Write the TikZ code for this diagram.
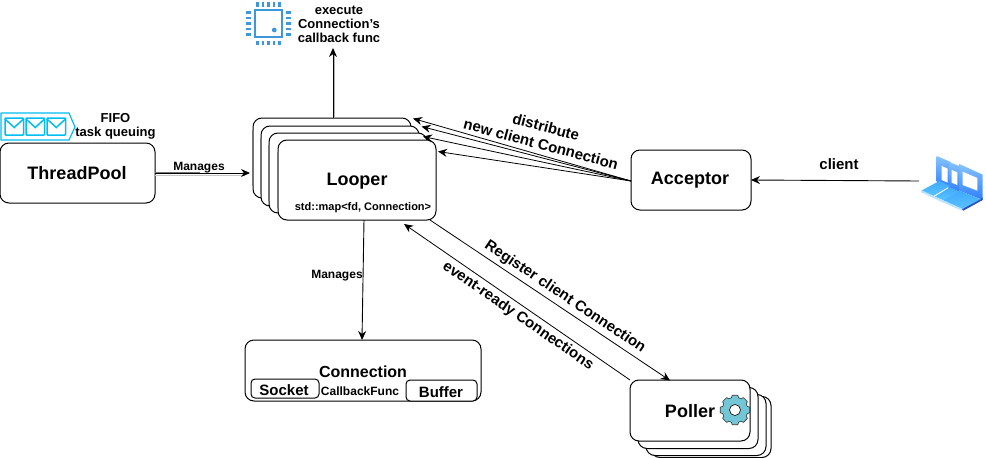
\documentclass[tikz,border=0pt]{standalone}
\usepackage{fontspec}
\setmainfont{Liberation Sans}
\usetikzlibrary{arrows.meta}
\definecolor{fifoblue}{HTML}{00BEF2}
\definecolor{chipblue}{HTML}{3F97DB}
\definecolor{gearteal}{HTML}{73C6D5}
\definecolor{lapdeep}{HTML}{2F7DFF}
\definecolor{laptop}{HTML}{86C4FF}
\definecolor{lapmid}{HTML}{3FA9FF}
\definecolor{lapsky}{HTML}{5CC4FF}
\definecolor{lappale}{HTML}{BFE4FF}
\definecolor{lapdark}{HTML}{2A4FC0}
\newcommand{\fs}[1]{\fontsize{#1}{#1}\selectfont\bfseries}
\tikzset{
  x=1pt,y=-1pt,
  box/.style={draw=black,fill=white,rounded corners=9pt,line width=1pt,inner sep=0pt,outer sep=0pt},
  lbl/.style={inner sep=0pt,outer sep=0pt,align=center,text=black},
  arr/.style={-{Stealth[length=9pt,width=8pt]},line width=0.9pt,black},
  thin arr/.style={arr,line width=0.8pt},
  shade line/.style={line width=1pt},
  pin/.style={chipblue,line width=2.2pt},
  card edge/.style={black!55,line width=1.6pt},
}
\begin{document}
\begin{tikzpicture}
\useasboundingbox (0,0) rectangle (986,458);
\fill[white] (0,0) rectangle (986,458);

% boxes
\node[box,minimum width=155pt,minimum height=60pt] (threadpool) at (77.5,173) {};
\node[box,minimum width=158pt,minimum height=80pt] (looperA) at (332,158) {};
\draw[card edge] ([yshift=-28pt]looperA.west) -- ([yshift=28pt]looperA.west);
\node[box,minimum width=158pt,minimum height=80pt] (looperB) at (340,166) {};
\draw[card edge] ([yshift=-28pt]looperB.west) -- ([yshift=28pt]looperB.west);
\node[box,minimum width=158pt,minimum height=80pt] (looperC) at (348,173) {};
\draw[card edge] ([yshift=-28pt]looperC.west) -- ([yshift=28pt]looperC.west);
\node[box,minimum width=158pt,minimum height=80pt] (looperD) at (357,180) {};
\draw[card edge] ([yshift=-28pt]looperD.west) -- ([yshift=28pt]looperD.west);
\node[box,minimum width=120pt,minimum height=60pt] (acceptor) at (691,180) {};
\node[box,minimum width=236pt,minimum height=61pt] (connection) at (363,370.5) {};
\node[box,rounded corners=4pt,minimum width=68pt,minimum height=19pt] (socket) at (285,388.5) {};
\node[box,rounded corners=4pt,minimum width=71pt,minimum height=21pt] (buffer) at (441.5,390.5) {};
\node[box,minimum width=120pt,minimum height=61pt] (pollerD) at (711,427) {};
\node[box,minimum width=120pt,minimum height=61pt] (pollerC) at (706,425) {};
\node[box,minimum width=120pt,minimum height=61pt] (pollerB) at (698,418) {};
\node[box,minimum width=120pt,minimum height=61pt] (pollerA) at (690,410.5) {};

% free ends
\coordinate (execTip) at (333,48);
\coordinate (execStart) at (333,118);
\coordinate (tpTip) at (250,173);
\coordinate (acceptorOut) at (631,181);
\coordinate (tipA) at (413,118.5);
\coordinate (tipB) at (421.5,126.5);
\coordinate (tipC) at (423,136.5);
\coordinate (tipD) at (438,151.5);
\coordinate (clientStart) at (919,181);
\coordinate (regStart) at (430,220);
\coordinate (regTip) at (670,380.5);
\coordinate (evStart) at (630,380);
\coordinate (evTip) at (404,224);
\coordinate (mgStart) at (364,220);
\coordinate (mgTip) at (362,340);

% connectors
\draw[shade line,black!30] (334.5,118) -- (334.5,54);
\draw[arr] (execStart) -- (execTip);
\draw[shade line,black!22] (155,175.5) -- (245,175.5);
\draw[line width=1.6pt,black!55] (threadpool.east) -- (200,173);
\draw[arr] (threadpool.east) -- (tpTip);
\draw[thin arr] (acceptorOut) -- (tipA);
\draw[thin arr] (acceptorOut) -- (tipB);
\draw[thin arr] (acceptorOut) -- (tipC);
\draw[thin arr] (acceptorOut) -- (tipD);
\draw[arr] (clientStart) -- (acceptor.east);
\draw[thin arr] (regStart) -- (regTip);
\draw[thin arr] (evStart) -- (evTip);
\draw[arr] (mgStart) -- (mgTip);

% labels
\node[lbl] (tTP) at (77,173) {\fs{18}ThreadPool};
\node[lbl] (tLooper) at (357,181) {\fs{18}Looper};
\node[lbl] (tMap) at (363,207.5) {\fs{11}std::map<fd, Connection>};
\node[lbl] (tAcc) at (690,180) {\fs{18}Acceptor};
\node[lbl] (tPoll) at (690,411) {\fs{18}Poller};
\node[lbl] (tConn) at (363,371.5) {\fs{16}Connection};
\node[lbl] (tSock) at (284,390) {\fs{15}Socket};
\node[lbl] (tBuf) at (441,392) {\fs{15}Buffer};
\node[lbl] (tCb) at (360,391) {\fs{12}CallbackFunc};
\node[lbl] (tMgA) at (199,167.5) {\fs{12}Manages};
\node[lbl] (tMgB) at (337,275.5) {\fs{12}Manages};
\node[lbl] (tClient) at (839,164) {\fs{15}client};
\node[lbl] (tFifo) at (115.5,126.5) {\fs{13}FIFO\\[2pt] \fs{13}task queuing};
\node[lbl] (tExec) at (339,24) {\fs{13}execute\\[2pt] \fs{13}Connection's\\[2pt] \fs{13}callback func};
\node[lbl,rotate=-15] (tDist) at (546,127) {\fs{15}distribute};
\node[lbl,rotate=-15] (tNew) at (541,144) {\fs{15}new client Connection};
\node[lbl,rotate=-33.8] (tReg) at (565,297) {\fs{15}Register client Connection};
\node[lbl,rotate=-34.5] (tEv) at (518,316) {\fs{15}event-ready Connections};

% FIFO icon
\draw[fifoblue,line width=1.2pt,fill=white,line join=round] (1,113) -- (69,113) -- (75,127) -- (69,140) -- (1,140) -- cycle;
\foreach \ex in {5,26,47}{
  \draw[fifoblue,line width=1.5pt,rounded corners=0.8pt] (\ex,118) rectangle ++(18.5,17);
  \draw[fifoblue,line width=1.5pt] (\ex,119) -- ++(9.25,8.5) -- ++(9.25,-8.5);
}

% chip icon
\draw[chipblue,line width=2.4pt] (255,10) rectangle (282,37);
\fill[chipblue] (274.3,30) circle (2.4);
\foreach \p in {0,1,2,3,4}{
  \draw[pin] (257.5+5.5*\p,2) -- ++(0,4.5);
  \draw[pin] (257.5+5.5*\p,40.5) -- ++(0,4.5);
  \draw[pin] (246,12.5+5.5*\p) -- ++(5,0);
  \draw[pin] (285.5,12.5+5.5*\p) -- ++(5,0);
}

% gear icon
\draw[fill=gearteal,draw=black!80,line width=0.6pt,line join=round]
  (735,410)
  +(-11:15)
  \foreach \a in {0,45,...,315}{
    -- +(\a-11:15) -- +(\a+11:15) -- +(\a+16:12.8) -- +(\a+29:12.8)
  } -- cycle;
\draw[fill=white,draw=black,line width=0.6pt] (735,410) circle (5.5);

% laptop icon
\begin{scope}[shift={(900,140)},x=0.3333pt,y=-0.3333pt]
  % left screen
  \shade[top color=laptop,bottom color=lapdeep] (110,48) -- (152,66) -- (152,146) -- (110,125) -- cycle;
  \fill[white] (125,78) -- (143,86) -- (143,128) -- (125,120) -- cycle;
  % middle screen
  \shade[top color=laptop,bottom color=lapdeep] (148,66) -- (178,78) -- (178,155) -- (148,142) -- cycle;
  \fill[white] (155,90) -- (172,97) -- (172,135) -- (155,128) -- cycle;
  % right screen
  \shade[top color=laptop,bottom color=lapdeep] (178,72) -- (248,104) -- (248,180) -- (178,152) -- cycle;
  \fill[white] (188,95) -- (232,114) -- (232,152) -- (188,135) -- cycle;
  % bases
  \shade[top color=lapmid,bottom color=lapsky] (64,152) -- (118,123) -- (150,138) -- (100,168) -- cycle;
  \shade[top color=lapmid,bottom color=lapsky] (104,170) -- (150,142) -- (176,154) -- (128,180) -- cycle;
  \shade[top color=lapmid,bottom color=lapsky] (128,180) -- (178,152) -- (246,180) -- (190,210) -- cycle;
  \fill[lapdark] (190,212) -- (248,180) -- (248,172) -- (242,178) -- (186,208) -- cycle;
  \draw[lappale,line width=2pt] (64,154) -- (128,184) -- (186,209);
\end{scope}
\end{tikzpicture}
\end{document}
